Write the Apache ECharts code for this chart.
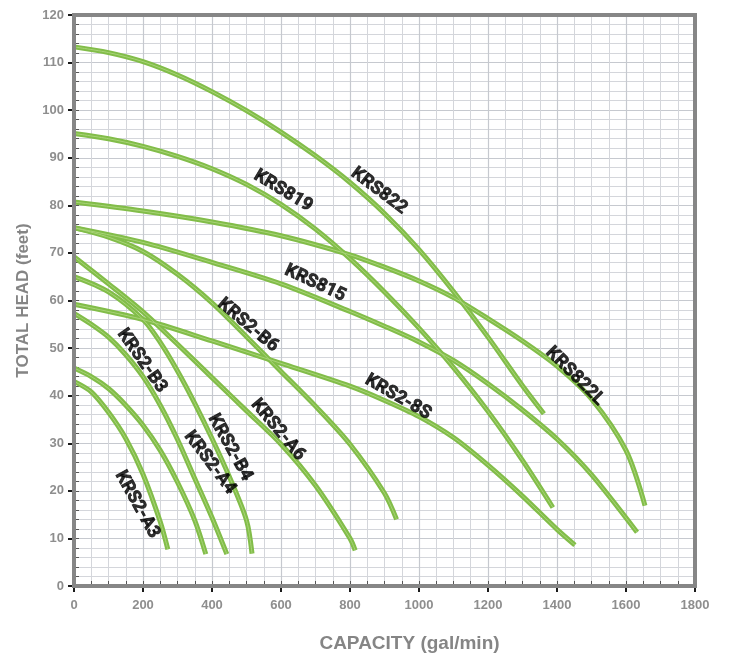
<!DOCTYPE html>
<html>
<head>
<meta charset="utf-8">
<script src="https://cdn.jsdelivr.net/npm/echarts@6/dist/echarts.min.js"></script>
<style>
html,body{margin:0;padding:0;background:#fff;}
#chart{width:730px;height:658px;}
</style>
</head>
<body>
<div id="chart"></div>
<script>
// ---- data ----
const curveNames = ['KRS822','KRS819','KRS822L','KRS815','KRS2-B6','KRS2-8S','KRS2-A6','KRS2-B4','KRS2-A4','KRS2-B3','KRS2-A3'];

const krs822  = [[0,113.3],[100,112.1],[200,110.2],[300,107.4],[400,103.9],[500,99.9],[600,95.4],[700,90.4],[800,84.8],[900,78.3],[1000,70.7],[1100,61.9],[1200,52.3],[1300,42.1],[1362,36.2]];
const krs819  = [[0,95.1],[100,94],[200,92.4],[300,90.3],[400,87.7],[500,84.4],[600,80.2],[700,75],[800,68.8],[900,61.8],[1000,54.2],[1100,45.9],[1200,36.7],[1300,26.4],[1388,16.5]];
const krs822L = [[0,80.7],[200,78.8],[400,76.5],[600,73.6],[800,69.6],[900,67],[1000,64.1],[1100,60.6],[1200,56.2],[1300,51.5],[1400,46.2],[1500,39.3],[1600,28.5],[1655,16.9]];
const krs815  = [[0,75.3],[200,72.2],[400,68],[600,63.5],[800,57.7],[900,54.6],[1000,51.3],[1100,47.4],[1200,42.5],[1300,37],[1400,30.9],[1500,23.4],[1632,11.3]];
const krs2B6  = [[0,75.3],[100,73.3],[200,70.3],[300,65.5],[400,59.5],[500,52.4],[600,45.1],[700,37.8],[800,29.8],[900,19.5],[935,14]];
const krs28S  = [[0,59.2],[200,56],[400,51.5],[600,46.8],[800,42],[900,39],[1000,35.6],[1100,31.2],[1200,25.4],[1300,18.9],[1400,11.9],[1452,8.6]];
const krs2A6  = [[0,69.2],[100,63.5],[200,57.6],[300,50.8],[400,43.8],[500,36.8],[600,29.8],[700,21.1],[800,10],[815,7.5]];
const krs2B4  = [[0,65],[100,61.8],[200,56],[250,51.2],[300,45.2],[350,38.4],[400,31],[450,23],[500,13.8],[516,6.8]];
const krs2A4  = [[0,57.3],[50,55],[100,52.3],[150,48.6],[200,44],[250,38],[300,30.8],[350,22.6],[400,14.4],[443,6.7]];
const krs2B3  = [[0,45.8],[50,44],[100,41.5],[150,38],[200,33.8],[250,28.5],[300,21.8],[350,13.8],[382,6.7]];
const krs2A3  = [[0,43],[50,40.8],[100,36.5],[150,31],[200,23.5],[250,13.5],[272,7.7]];

const curveData = [krs822, krs819, krs822L, krs815, krs2B6, krs28S, krs2A6, krs2B4, krs2A4, krs2B3, krs2A3];

// curve label anchors (data coordinates) and text angle
const labelX     = [884, 606, 1452, 699, 504, 939, 591, 452, 394, 197, 183];
const labelY     = [83, 83, 44.1, 63.6, 54.8, 39.7, 32.8, 29.1, 25.9, 47.3, 17.1];
const labelAngle = [-37, -31, -45, -25, -40, -30, -50, -61, -53, -55, -61];

const xMin = 0, xMax = 1800, xStep = 200;
const yMin = 0, yMax = 120, yStep = 10;

// ---- chart ----
const chart = echarts.init(document.getElementById('chart'), null, {renderer: 'canvas'});

const tickFont = {color: '#8e8e8e', fontSize: 13, fontWeight: 'bold', fontFamily: 'Liberation Sans, Arial, sans-serif'};
const nameFont = {color: '#858585', fontWeight: 'bold', fontFamily: 'Liberation Sans, Arial, sans-serif'};

const series = [];
curveData.forEach((d, i) => {
  series.push({
    type: 'line', name: curveNames[i], data: d, smooth: 0.3, showSymbol: false, silent: true,
    lineStyle: {color: '#82bd49', width: 5, cap: 'butt'}, z: 3
  });
  series.push({
    type: 'line', name: curveNames[i] + '_hl', data: d, smooth: 0.3, showSymbol: false, silent: true,
    lineStyle: {color: '#a8d477', width: 1}, z: 4
  });
});
series.push({
  type: 'scatter', silent: true, symbolSize: 1, itemStyle: {color: 'rgba(0,0,0,0)'}, z: 6,
  data: curveNames.map((n, i) => ({
    value: [labelX[i], labelY[i]],
    label: {show: true, position: 'inside', rotate: labelAngle[i], formatter: n}
  })),
  label: {
    show: true, color: '#000000', fontSize: 18, fontWeight: 'bold',
    fontFamily: "Roboto, 'DejaVu Sans', sans-serif",
    textBorderColor: '#000000', textBorderWidth: 0.8
  }
});

const plainNum = v => String(v);

const option = {
  animation: false,
  backgroundColor: '#ffffff',
  grid: {left: 74, right: 35, top: 15, bottom: 69, show: true, borderColor: '#868686', borderWidth: 4, backgroundColor: 'transparent', z: 5},
  xAxis: [{
    type: 'value', min: xMin, max: xMax, interval: xStep,
    name: 'CAPACITY (gal/min)', nameLocation: 'middle', nameGap: 48,
    nameTextStyle: Object.assign({fontSize: 19, padding: [0, 0, 0, 50]}, nameFont),
    axisLine: {show: false},
    axisTick: {show: true, inside: false, length: 6, lineStyle: {color: '#1a1a1a', width: 2}},
    axisLabel: Object.assign({margin: 13, formatter: plainNum}, tickFont),
    splitLine: {show: true, lineStyle: {color: '#c6c9cf', width: 1.2}},
    minorTick: {show: false, splitNumber: 4},
    minorSplitLine: {show: true, lineStyle: {color: '#d4d6db', width: 1}}
  }, {
    type: 'value', min: xMin, max: xMax, interval: 50, position: 'bottom',
    axisLine: {show: false}, axisLabel: {show: false}, splitLine: {show: false},
    axisTick: {show: true, inside: true, length: 5, lineStyle: {color: '#555', width: 1}}
  }],
  yAxis: [{
    type: 'value', min: yMin, max: yMax, interval: yStep,
    name: 'TOTAL HEAD (feet)', nameLocation: 'middle', nameGap: 40, nameRotate: 90,
    nameTextStyle: Object.assign({fontSize: 17}, nameFont),
    axisLine: {show: false},
    axisTick: {show: true, inside: false, length: 6, lineStyle: {color: '#1a1a1a', width: 2}},
    axisLabel: Object.assign({margin: 10, formatter: plainNum}, tickFont),
    splitLine: {show: true, lineStyle: {color: '#c6c9cf', width: 1.2}},
    minorTick: {show: false, splitNumber: 5},
    minorSplitLine: {show: true, lineStyle: {color: '#d4d6db', width: 1}}
  }, {
    type: 'value', min: yMin, max: yMax, interval: 2, position: 'left',
    axisLine: {show: false}, axisLabel: {show: false}, splitLine: {show: false},
    axisTick: {show: true, inside: true, length: 5, lineStyle: {color: '#555', width: 1}}
  }],
  series: series
};
chart.setOption(option);
</script>
</body>
</html>
